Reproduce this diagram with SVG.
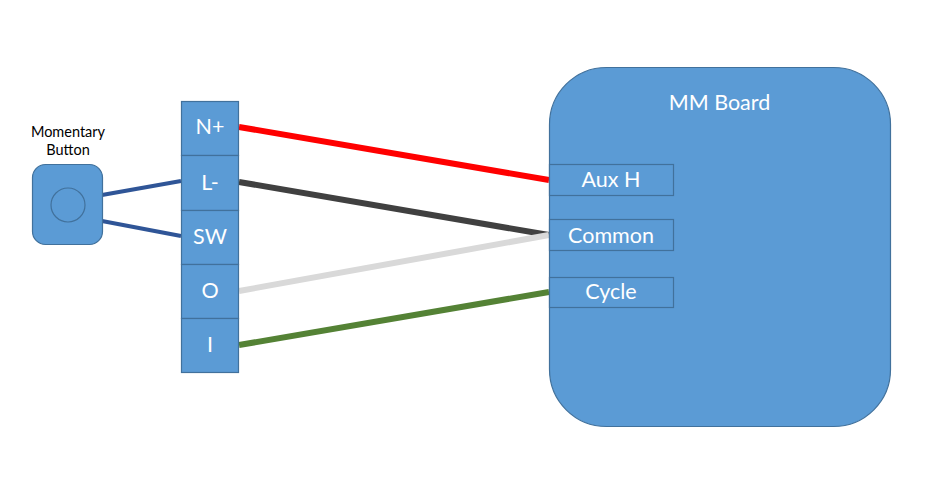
<svg xmlns="http://www.w3.org/2000/svg" width="938" height="478" viewBox="0 0 938 478">
<style>
.s{fill:#5b9bd5;stroke:#41719c;stroke-width:1.2}
.t{font-family:Lato,"Liberation Sans",sans-serif;fill:#fff;text-anchor:middle;font-size:21.5px}
.k{font-family:Lato,"Liberation Sans",sans-serif;fill:#000;text-anchor:middle;font-size:14.5px}
.w{fill:none;stroke-linecap:butt}
.b{stroke:#2f5597;stroke-width:4}
</style>
<rect width="938" height="478" fill="#fff"/>
<g id="connectors">
<line class="w b" x1="102" y1="195" x2="181" y2="181"/>
<line class="w b" x1="102" y1="221" x2="181" y2="236"/>
<line class="w" x1="239" y1="127" x2="549" y2="180" stroke="#ff0000" stroke-width="6"/>
<line class="w" x1="239" y1="182" x2="549" y2="235" stroke="#404040" stroke-width="6"/>
<line class="w" x1="239" y1="291" x2="549" y2="235" stroke="#d9d9d9" stroke-width="6"/>
<line class="w" x1="239" y1="345" x2="549" y2="292" stroke="#548235" stroke-width="6"/>
</g>
<g id="button">
<rect class="s" x="32.5" y="164.5" width="70" height="80" rx="13"/>
<circle class="s" cx="68" cy="205" r="17"/>
<text class="k" x="68" y="137">Momentary</text>
<text class="k" x="68" y="155">Button</text>
</g>
<g id="n-plus"><rect class="s" x="181.5" y="101.5" width="57" height="54"/><text class="t" x="210" y="134">N+</text></g>
<g id="l-minus"><rect class="s" x="181.5" y="155.5" width="57" height="55"/><text class="t" x="210" y="190">L-</text></g>
<g id="sw"><rect class="s" x="181.5" y="210.5" width="57" height="54"/><text class="t" x="210" y="244">SW</text></g>
<g id="o"><rect class="s" x="181.5" y="264.5" width="57" height="54"/><text class="t" x="210" y="298">O</text></g>
<g id="i"><rect class="s" x="181.5" y="318.5" width="57" height="54"/><text class="t" x="210" y="352">I</text></g>
<g id="mm-board">
<rect class="s" x="549.5" y="67.5" width="341" height="359" rx="57"/>
<text class="t" x="719.5" y="110">MM Board</text>
</g>
<g id="aux-h"><rect class="s" x="549.5" y="164.5" width="124" height="31"/><text class="t" x="611" y="187">Aux H</text></g>
<g id="common"><rect class="s" x="549.5" y="219.5" width="124" height="31"/><text class="t" x="611" y="243">Common</text></g>
<g id="cycle"><rect class="s" x="549.5" y="277.5" width="124" height="30"/><text class="t" x="611" y="299">Cycle</text></g>
</svg>
